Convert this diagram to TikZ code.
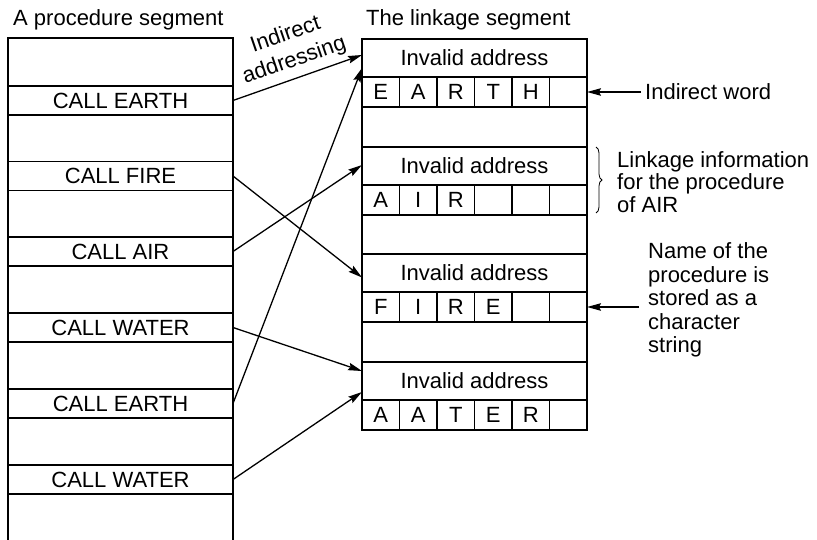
\documentclass[tikz,border=0pt]{standalone}
\usepackage{fontspec}
\setmainfont{Liberation Sans}
\usetikzlibrary{arrows.meta,decorations.pathreplacing,calc}
\begin{document}
\begin{tikzpicture}[x=1pt,y=-1pt,
  every node/.style={font=\fontsize{22}{23.5}\selectfont},
  seg/.style={line width=1.7pt},
  band/.style={draw,line width=1.8pt,minimum width=225pt,inner sep=0pt,outer sep=0pt},
  cellbox/.style={draw,line width=1.6pt,minimum width=37.5pt,minimum height=30pt,inner sep=0pt,outer sep=0pt},
  arr/.style={line width=1.3pt,-{Stealth[length=14pt,width=7.5pt,inset=2pt]}},
  txt/.style={inner sep=0pt}]
\useasboundingbox (0,0) rectangle (817,540);

% headings
\node[txt,anchor=base west] (h1) at (13,26) {A procedure segment};
\node[txt,anchor=base west] (h2) at (366,26) {The linkage segment};

% procedure segment
\draw[seg] (8,541) -- (8,38) -- (233,38) -- (233,541);
\node[band,minimum height=29pt] (c1) at (120.5,100.5) {CALL EARTH};
\node[band,minimum height=29pt] (c2) at (120.5,176) {CALL FIRE};
\node[band,minimum height=29pt] (c3) at (120.5,251.5) {CALL AIR};
\node[band,minimum height=29pt] (c4) at (120.5,327.5) {CALL WATER};
\node[band,minimum height=29pt] (c5) at (120.5,403.5) {CALL EARTH};
\node[band,minimum height=29pt] (c6) at (120.5,479.5) {CALL WATER};

% linkage segment
\draw[seg] (362,39) rectangle (587,430);
\node[band,minimum height=38pt] (ia1) at (474.5,58) {Invalid address};
\node[band,minimum height=38pt] (ia2) at (474.5,166) {Invalid address};
\node[band,minimum height=38pt] (ia3) at (474.5,273) {Invalid address};
\node[band,minimum height=38pt] (ia4) at (474.5,381) {Invalid address};
\foreach \l [count=\i] in {E,A,R,T,H,{}}
  \node[cellbox] (r1-\i) at ({362+18.75+37.5*(\i-1)},92) {\l};
\foreach \l [count=\i] in {A,I,R,{},{},{}}
  \node[cellbox] (r2-\i) at ({362+18.75+37.5*(\i-1)},200) {\l};
\foreach \l [count=\i] in {F,I,R,E,{},{}}
  \node[cellbox] (r3-\i) at ({362+18.75+37.5*(\i-1)},307) {\l};
\foreach \l [count=\i] in {A,A,T,E,R,{}}
  \node[cellbox] (r4-\i) at ({362+18.75+37.5*(\i-1)},415) {\l};

% connectors
\draw[arr] (c1.east) -- ([yshift=3pt]ia1.west);
\draw[arr] (c5.east) -- ([yshift=9pt]ia1.south west);
\draw[arr] (c2.east) -- ([yshift=-4.5pt]ia3.west);
\draw[arr] (c3.east) -- ([yshift=1pt]ia2.west);
\draw[arr] (c4.east) -- ([yshift=10pt]ia4.west);
\draw[arr] (c6.east) -- ([yshift=-11pt]ia4.west);

\node[txt,rotate=19,align=center,font=\fontsize{22}{27}\selectfont] (lbl) at (290,48) {Indirect\\addressing};

% annotations
\node[txt,anchor=west] (iw) at (645,92) {Indirect word};
\draw[arr] ([xshift=-4pt]iw.west) -- (r1-6.east);

\draw[line width=0.8pt,decorate,decoration={brace,amplitude=6pt}] (596,147) -- (596,213);
\node[txt,anchor=west,align=left,font=\fontsize{22}{22.5}\selectfont] (link) at (617,182) {Linkage information\\for the procedure\\of AIR};

\node[txt,anchor=west,align=left] (name) at (648,300) {Name of the\\procedure is\\stored as a\\character\\string};
\coordinate (nmtail) at (639,307);
\draw[arr] (nmtail) -- (r3-6.east);
\end{tikzpicture}
\end{document}
